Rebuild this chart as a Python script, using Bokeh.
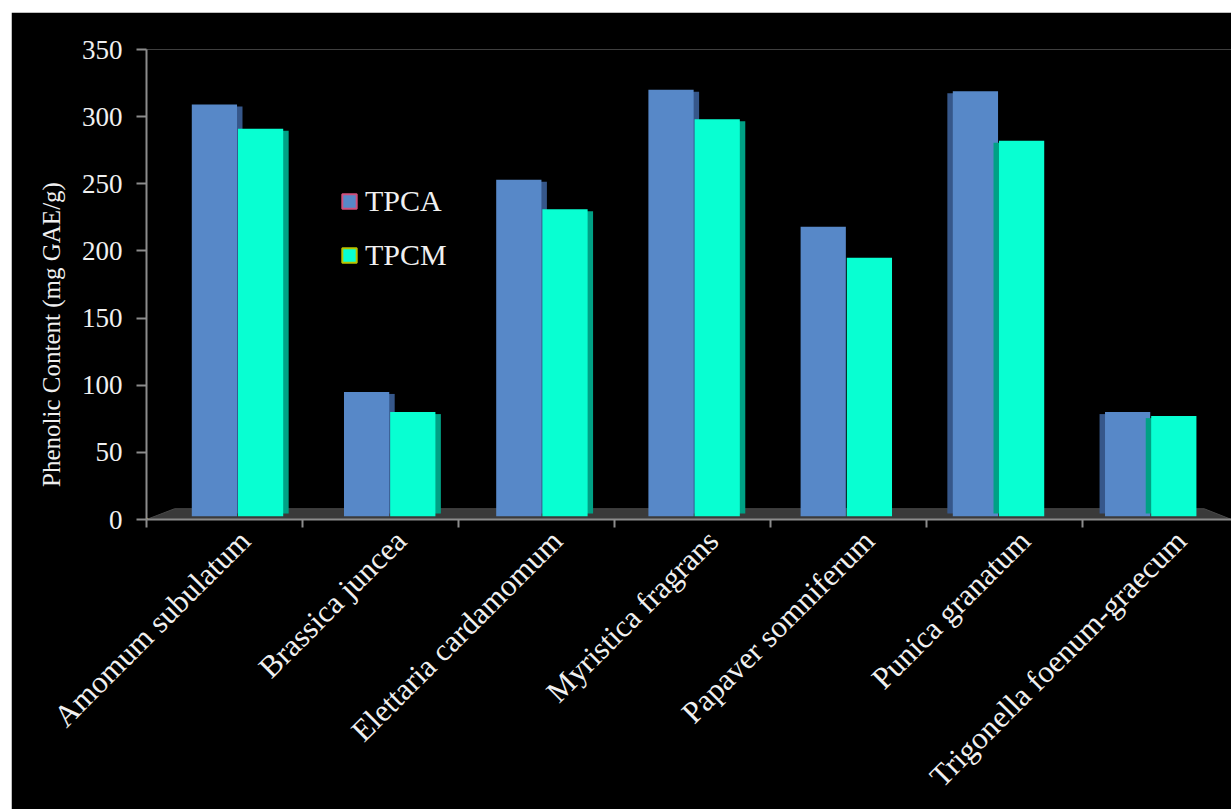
import numpy as np
from bokeh.plotting import figure
from bokeh.models import Range1d, FixedTicker, Legend, LegendItem, Spacer
from bokeh.layouts import column, row
from bokeh.embed import file_html
from bokeh.resources import INLINE

# ---- data ----
species = ["Amomum subulatum", "Brassica juncea", "Elettaria cardamomum",
           "Myristica fragrans", "Papaver somniferum", "Punica granatum",
           "Trigonella foenum-graecum"]
tpca = [309, 95, 253, 320, 218, 319, 80]
tpcm = [291, 80, 231, 298, 195, 282, 77]
series_names = ["TPCA", "TPCM"]
y_ticks = [0, 50, 100, 150, 200, 250, 300, 350]
y_title = "Phenolic Content (mg GAE/g)"

FONT = "Liberation Serif"
BLUE, BLUE_SIDE = "#5788c8", "#36578a"
CYAN, CYAN_SIDE = "#08ffd2", "#00a185"

W, H = 1220, 797
x_end = 6.955
p = figure(width=W, height=H, x_range=Range1d(0, x_end), y_range=Range1d(0, 350),
           output_backend="svg", toolbar_location=None,
           min_border_left=135, min_border_right=0, min_border_top=37, min_border_bottom=290,
           background_fill_color="black", border_fill_color="black", outline_line_color=None)
p.xgrid.visible = False
p.ygrid.visible = False

n = len(species)
idx = np.arange(n)
shift = (13 - 3.8 * idx) / 156.0          # slight perspective drift of the 3-D chart
centers = idx + 0.5 + shift
bw = 0.29
off = 0.148
side_dir = np.where(idx < 4, 1, np.where(idx > 4, -1, 0))
side_w = 0.035
base = 2.5

# floor
p.patch(x=[0, 0.18, 6.78, x_end], y=[0, 8, 8, 0], fill_color="#3a3a3a", line_color="#4a4a4a", line_width=1)

for vals, dx, front, side in [(tpca, -off, BLUE, BLUE_SIDE), (tpcm, off, CYAN, CYAN_SIDE)]:
    vals = np.array(vals, dtype=float)
    xc = centers + dx
    left_edge = xc - bw / 2
    right_edge = xc + bw / 2
    sl = np.where(side_dir > 0, right_edge - 0.01, left_edge - side_w)
    sr = np.where(side_dir > 0, right_edge + side_w, left_edge + 0.01)
    m = side_dir != 0
    p.quad(left=sl[m], right=sr[m], bottom=base + 2, top=vals[m] - 1.5,
           fill_color=side, line_color=None)
    p.vbar(x=xc, top=vals, bottom=base, width=bw, fill_color=front, line_color=None)

# axes
xax = p.xaxis[0]
label_pos = [float(i + 0.63) for i in idx]
xax.ticker = FixedTicker(ticks=label_pos, minor_ticks=list(range(0, n)))
xax.major_label_overrides = {lp: s for lp, s in zip(label_pos, species)}
xax.major_label_orientation = np.pi / 4
xax.major_tick_in = 0
xax.major_tick_out = 0
xax.minor_tick_in = 0
xax.minor_tick_out = 8
xax.minor_tick_line_color = "#8c8c8c"
xax.minor_tick_line_width = 2
xax.axis_line_color = "#8c8c8c"
xax.axis_line_width = 2
xax.major_label_text_font = FONT
xax.major_label_text_font_size = "31px"
xax.major_label_text_color = "#f0f0f0"
xax.major_label_standoff = 8

yax = p.yaxis[0]
yax.ticker = FixedTicker(ticks=y_ticks)
yax.minor_tick_line_color = None
yax.major_tick_in = 0
yax.major_tick_out = 10
yax.major_tick_line_color = "#8c8c8c"
yax.major_tick_line_width = 2
yax.axis_line_color = "#8c8c8c"
yax.axis_line_width = 2
yax.major_label_text_font = FONT
yax.major_label_text_font_size = "27px"
yax.major_label_text_color = "#f0f0f0"
yax.major_label_standoff = 14
# title sits lower than the axis centre in the original: pad its end with no-break spaces
yax.axis_label = y_title + "\u00a0" * 16
yax.axis_label_text_font = FONT
yax.axis_label_text_font_size = "25px"
yax.axis_label_text_font_style = "normal"
yax.axis_label_text_color = "#f0f0f0"
yax.axis_label_standoff = 14

# legend
ra = p.vbar(x=[-5], top=[1], width=0.1, fill_color=BLUE, line_color="#d0507c", line_width=2)
rm = p.vbar(x=[-5], top=[1], width=0.1, fill_color=CYAN, line_color="#b8c400", line_width=2)
legend = Legend(items=[LegendItem(label=series_names[0], renderers=[ra]),
                       LegendItem(label=series_names[1], renderers=[rm])],
                location=(194, 247), background_fill_alpha=0, border_line_color=None,
                label_text_color="#f0f0f0", label_text_font=FONT, label_text_font_size="30px",
                glyph_width=18, glyph_height=18, spacing=20, padding=0, margin=0, label_standoff=7)
p.add_layout(legend)

layout = column(Spacer(height=12), row(Spacer(width=11), p))
open("out.html", "w").write(file_html(layout, INLINE))
